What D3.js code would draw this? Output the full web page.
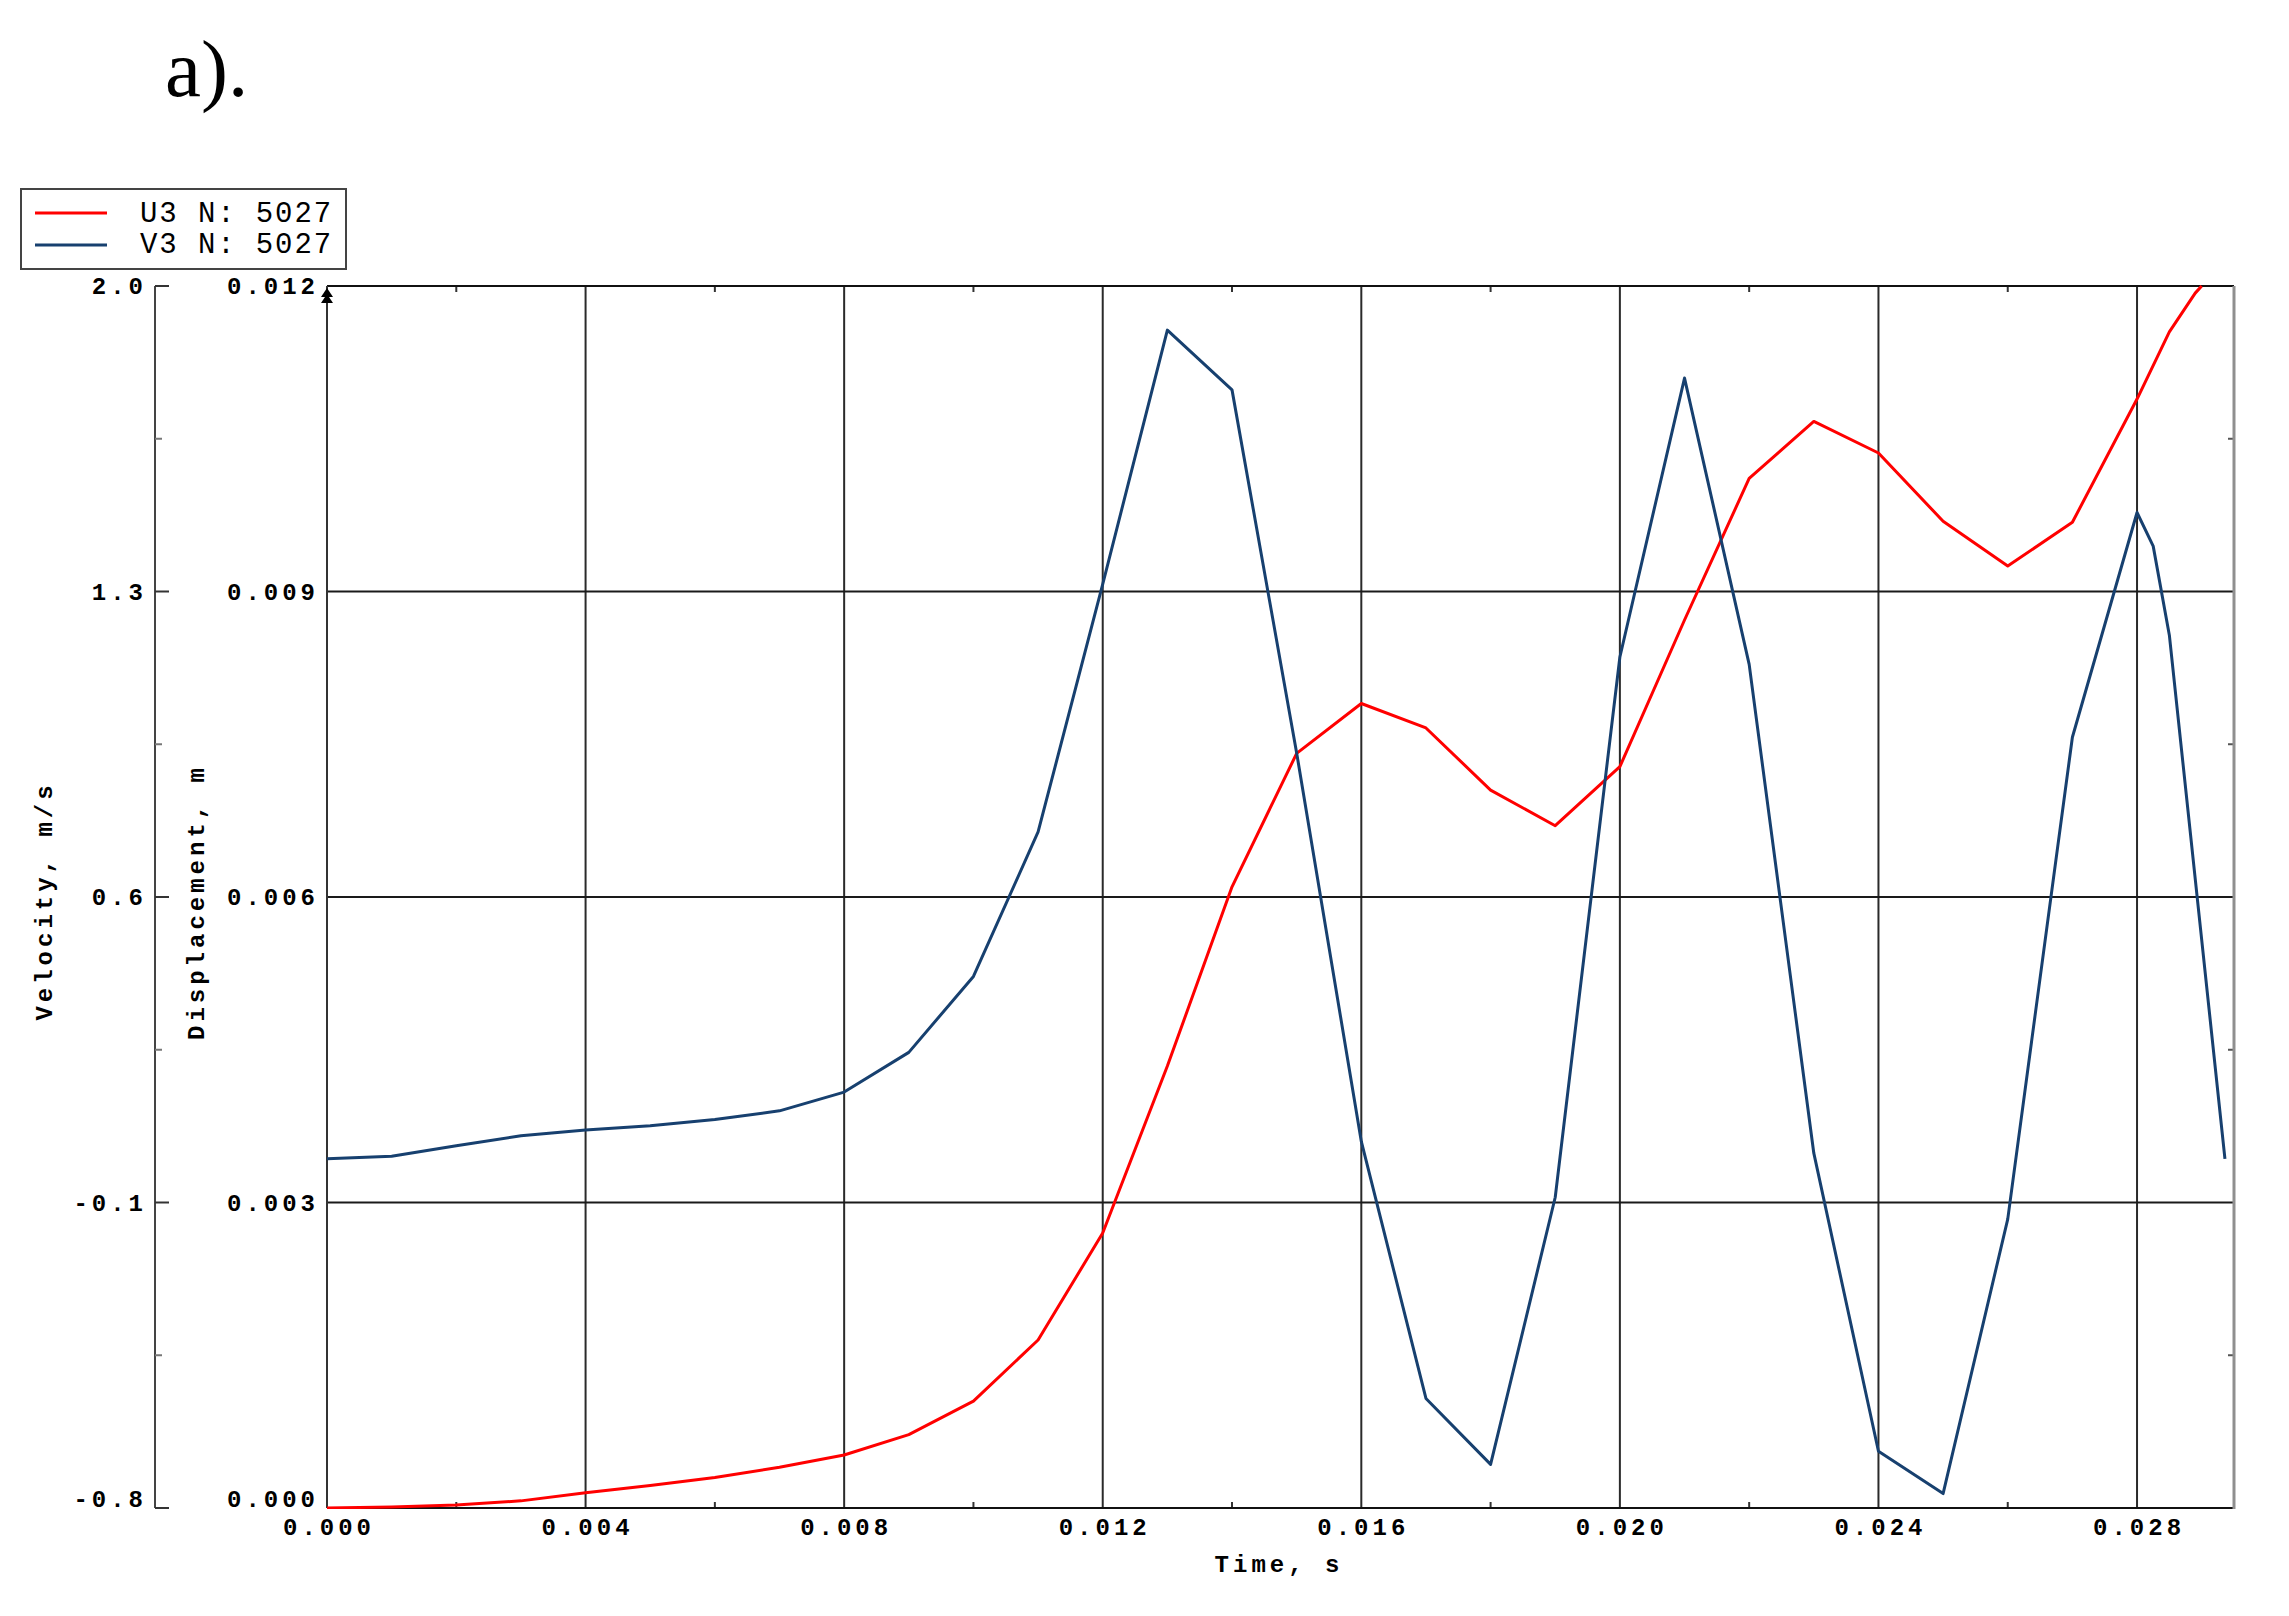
<!DOCTYPE html>
<html>
<head>
<meta charset="utf-8">
<script src="https://cdn.jsdelivr.net/npm/d3@7"></script>
<style>
  html, body { margin: 0; padding: 0; background: #fff; }
  svg { display: block; }
</style>
</head>
<body>
<svg id="chart" width="2289" height="1616"></svg>
<script>
// ---- data ----
const uTime = [0,0.001,0.002,0.003,0.004,0.005,0.006,0.007,0.008,0.009,0.010,0.011,0.012,0.013,0.014,0.015,0.016,0.017,0.018,0.019,0.020,0.021,0.022,0.023,0.024,0.025,0.026,0.027,0.028,0.0285,0.0289,0.029];
const uDisp = [0,0.00001,0.00003,0.00007,0.00015,0.00022,0.0003,0.0004,0.00052,0.00072,0.00105,0.00165,0.0027,0.00434,0.0061,0.00741,0.0079,0.00766,0.00705,0.0067,0.00728,0.00872,0.01011,0.01067,0.01036,0.00969,0.00925,0.00968,0.01089,0.01155,0.01193,0.0120];
const vTime = [0,0.001,0.002,0.003,0.004,0.005,0.006,0.007,0.008,0.009,0.010,0.011,0.012,0.013,0.014,0.015,0.016,0.017,0.018,0.019,0.020,0.021,0.022,0.023,0.024,0.025,0.026,0.027,0.028,0.02825,0.0285,0.02936];
const vVel = [0.0,0.006,0.03,0.053,0.066,0.076,0.09,0.11,0.153,0.244,0.418,0.749,1.317,1.899,1.762,0.93,0.04,-0.549,-0.70,-0.088,1.15,1.789,1.133,0.013,-0.67,-0.767,-0.138,0.966,1.481,1.404,1.2,0.0];
const timeTicks = [0,0.004,0.008,0.012,0.016,0.020,0.024,0.028];
const timeMinor = [0.002,0.006,0.010,0.014,0.018,0.022,0.026];
const dispTicks = [0,0.003,0.006,0.009,0.012];
const dispMinor = [0.0015,0.0045,0.0075,0.0105];
const velTicks = [-0.8,-0.1,0.6,1.3,2.0];
const velMinor = [-0.45,0.25,0.95,1.65];
const legendItems = [{label:"U3 N: 5027", color:"#ff0000"},{label:"V3 N: 5027", color:"#17406f"}];

// ---- layout ----
const L = 327, R = 2234, T = 286, B = 1508, VX = 155;
const x = d3.scaleLinear().domain([0, 0.0295]).range([L, R]);
const yD = d3.scaleLinear().domain([0, 0.012]).range([B, T]);
const yV = d3.scaleLinear().domain([-0.8, 2.0]).range([B, T]);

const svg = d3.select("#chart");
const mono = "'Liberation Mono', 'DejaVu Sans Mono', monospace";
const LS = 4;

// title
svg.append("text").attr("x", 165).attr("y", 96)
  .attr("font-family", "'Liberation Serif', 'DejaVu Serif', serif")
  .attr("font-size", 81).attr("fill", "#000").text("a).");

// clip
svg.append("clipPath").attr("id", "clip").append("rect")
  .attr("x", L).attr("y", T - 1).attr("width", R - L).attr("height", B - T + 2);

// grid
const g = svg.append("g");
g.selectAll(".vg").data(timeTicks.slice(1)).join("line")
  .attr("x1", d => x(d)).attr("x2", d => x(d)).attr("y1", T).attr("y2", B)
  .attr("stroke", "#2a2a2a").attr("stroke-width", 2);
g.selectAll(".hg").data(dispTicks.slice(1, -1)).join("line")
  .attr("x1", L).attr("x2", R).attr("y1", d => yD(d)).attr("y2", d => yD(d))
  .attr("stroke", "#1a1a1a").attr("stroke-width", 1.8);

// minor ticks top/bottom
g.selectAll(".tm").data(timeMinor).join("line")
  .attr("x1", d => x(d)).attr("x2", d => x(d)).attr("y1", T).attr("y2", T + 6)
  .attr("stroke", "#333").attr("stroke-width", 2);
g.selectAll(".bm").data(timeMinor).join("line")
  .attr("x1", d => x(d)).attr("x2", d => x(d)).attr("y1", B).attr("y2", B - 6)
  .attr("stroke", "#333").attr("stroke-width", 2);
// right minor ticks
g.selectAll(".rm").data(dispMinor).join("line")
  .attr("x1", R).attr("x2", R - 6).attr("y1", d => yD(d)).attr("y2", d => yD(d))
  .attr("stroke", "#555").attr("stroke-width", 2);

// borders
g.append("line").attr("x1", L).attr("x2", R).attr("y1", T).attr("y2", T).attr("stroke", "#111").attr("stroke-width", 2);
g.append("line").attr("x1", L).attr("x2", R).attr("y1", B).attr("y2", B).attr("stroke", "#111").attr("stroke-width", 2);
g.append("line").attr("x1", R).attr("x2", R).attr("y1", T).attr("y2", B + 1).attr("stroke", "#8f8f8f").attr("stroke-width", 3);
g.append("line").attr("x1", L).attr("x2", L).attr("y1", T).attr("y2", B).attr("stroke", "#333").attr("stroke-width", 2);
// arrow heads on displacement axis
[T + 2, T + 8].forEach(a => {
  g.append("path").attr("d", `M${L},${a} L${L - 6},${a + 9} L${L + 6},${a + 9} Z`).attr("fill", "#000");
});

// velocity axis
g.append("line").attr("x1", VX).attr("x2", VX).attr("y1", T).attr("y2", B).attr("stroke", "#444").attr("stroke-width", 2);
g.selectAll(".vt").data(velTicks).join("line")
  .attr("x1", VX).attr("x2", VX + 14).attr("y1", d => yV(d)).attr("y2", d => yV(d))
  .attr("stroke", "#333").attr("stroke-width", 2);
g.selectAll(".vm").data(velMinor).join("line")
  .attr("x1", VX).attr("x2", VX + 7).attr("y1", d => yV(d)).attr("y2", d => yV(d))
  .attr("stroke", "#777").attr("stroke-width", 2);

// labels
const fmt3 = d3.format(".3f"), fmt1 = d3.format(".1f");
const lab = svg.append("g").attr("font-family", mono).attr("font-size", 24)
  .attr("font-weight", "bold").attr("fill", "#000").attr("letter-spacing", LS);
lab.selectAll(".vl").data(velTicks).join("text")
  .attr("x", 143 + LS).attr("y", d => d === -0.8 ? B - 1 : yV(d) + 8)
  .attr("text-anchor", "end").text(d => fmt1(d).replace("−", "-"));
lab.selectAll(".dl").data(dispTicks).join("text")
  .attr("x", 315 + LS).attr("y", d => d === 0 ? B - 1 : yD(d) + 8)
  .attr("text-anchor", "end").text(d => fmt3(d));
lab.selectAll(".tl").data(timeTicks).join("text")
  .attr("x", d => x(d) + LS / 2).attr("y", 1535)
  .attr("text-anchor", "middle").text(d => fmt3(d));

// axis titles
lab.append("text").attr("transform", "translate(52,903) rotate(-90)")
  .attr("text-anchor", "middle").attr("dx", LS / 2).text("Velocity, m/s");
lab.append("text").attr("transform", "translate(204,904) rotate(-90)")
  .attr("text-anchor", "middle").attr("dx", LS / 2).text("Displacement, m");
lab.append("text").attr("x", 1277 + LS / 2).attr("y", 1572)
  .attr("text-anchor", "middle").text("Time, s");

// series
const lineU = d3.line().x((d, i) => x(uTime[i])).y(d => yD(d));
const lineV = d3.line().x((d, i) => x(vTime[i])).y(d => yV(d));
const series = svg.append("g").attr("clip-path", "url(#clip)");
series.append("path").attr("d", lineU(uDisp)).attr("fill", "none")
  .attr("stroke", legendItems[0].color).attr("stroke-width", 3).attr("stroke-linejoin", "round");
series.append("path").attr("d", lineV(vVel)).attr("fill", "none")
  .attr("stroke", legendItems[1].color).attr("stroke-width", 3).attr("stroke-linejoin", "round");

// legend
const leg = svg.append("g");
leg.append("rect").attr("x", 21).attr("y", 189).attr("width", 325).attr("height", 80)
  .attr("fill", "#fff").attr("stroke", "#444").attr("stroke-width", 2);
legendItems.forEach((it, i) => {
  const yy = 213 + i * 32;
  leg.append("line").attr("x1", 35).attr("x2", 107).attr("y1", yy).attr("y2", yy)
    .attr("stroke", it.color).attr("stroke-width", 3);
  leg.append("text").attr("x", 140).attr("y", 222 + i * 31)
    .attr("font-family", mono).attr("font-size", 29).attr("letter-spacing", 1.9)
    .attr("fill", "#000").text(it.label);
});
</script>
</body>
</html>
